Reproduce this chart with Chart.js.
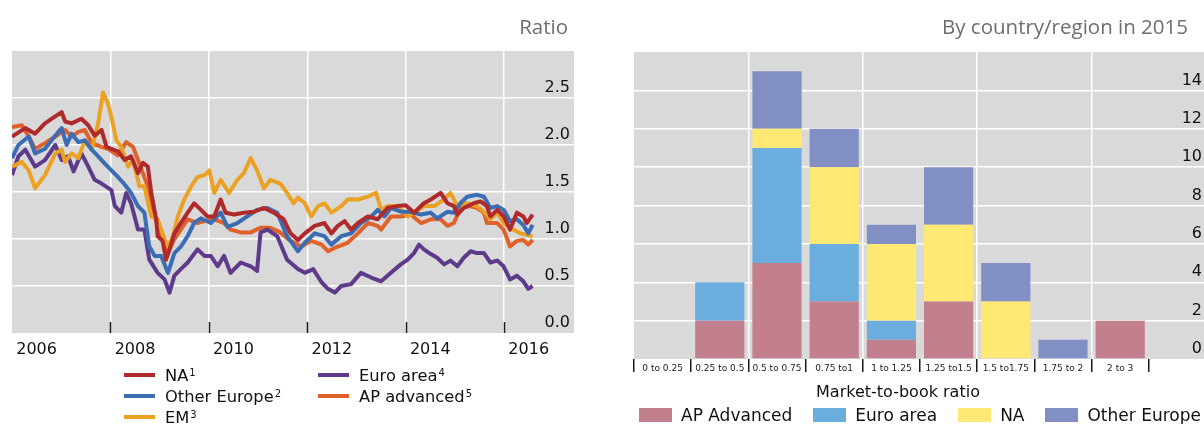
<!DOCTYPE html>
<html>
<head>
<meta charset="utf-8">
<script src="https://cdn.jsdelivr.net/npm/chart.js@4.4.1/dist/chart.umd.min.js"></script>
<style>
  html, body { margin: 0; padding: 0; background: #fff; overflow: hidden; }
  body { width: 1204px; height: 424px; position: relative; font-family: "DejaVu Sans", sans-serif; color: #111; }
  .box { position: absolute; top: 0; }
  .title { position: absolute; top: 16px; font-family: "Open Sans", sans-serif; font-size: 20.5px; line-height: 21px; color: #6e6e6e; white-space: nowrap; }
  .lg-item { position: absolute; display: flex; align-items: center; height: 20px; font-size: 16.3px; white-space: nowrap; }
  .lg-line { width: 31px; height: 4px; margin-right: 10px; }
  .lg-item sup { font-size: 10px; position: relative; top: -3px; margin-left: 1px; }
  #barLegend { position: absolute; left: 639px; top: 406px; display: flex; gap: 21px; font-size: 17px; line-height: 18px; white-space: nowrap; }
  #barLegend .item { display: flex; align-items: center; }
  #barLegend .sw { width: 33px; height: 14px; margin-right: 9px; }
  .axis-title { position: absolute; left: 798px; width: 200px; top: 383px; text-align: center; font-size: 16px; line-height: 18px; }
</style>
</head>
<body>
<div class="box" style="left:0;width:600px;height:424px"><canvas id="lineChart" width="600" height="424"></canvas></div>
<div class="box" style="left:600px;width:610px;height:424px"><canvas id="barChart" width="610" height="424"></canvas></div>
<div class="title" style="right:636px">Ratio</div>
<div class="title" style="right:16px">By country/region in 2015</div>
<div id="lineLegend"></div>
<div class="axis-title">Market-to-book ratio</div>
<div id="barLegend"></div>

<script>
// Market-to-book ratios, [year, ratio]
const naSeries = [
  [2006.00, 2.09], [2006.27, 2.18], [2006.47, 2.12], [2006.67, 2.23], [2006.81, 2.28], [2007.01, 2.35],
  [2007.08, 2.25], [2007.21, 2.23], [2007.41, 2.28], [2007.55, 2.21], [2007.68, 2.10], [2007.82, 2.16],
  [2007.92, 1.98], [2008.02, 1.96], [2008.16, 1.93], [2008.29, 1.84], [2008.42, 1.88], [2008.56, 1.70],
  [2008.66, 1.81], [2008.76, 1.77], [2008.83, 1.49], [2008.93, 1.21], [2008.96, 1.03], [2009.06, 0.98],
  [2009.13, 0.78], [2009.20, 0.89], [2009.30, 1.06], [2009.43, 1.17], [2009.57, 1.28], [2009.70, 1.38],
  [2009.84, 1.31], [2009.97, 1.24], [2010.11, 1.24], [2010.24, 1.42], [2010.34, 1.28], [2010.51, 1.26],
  [2010.71, 1.28], [2010.92, 1.29], [2011.12, 1.33], [2011.32, 1.28], [2011.52, 1.21], [2011.66, 1.06],
  [2011.81, 0.99], [2011.95, 1.06], [2012.15, 1.14], [2012.35, 1.17], [2012.49, 1.06], [2012.62, 1.14],
  [2012.76, 1.19], [2012.89, 1.10], [2013.03, 1.17], [2013.23, 1.24], [2013.43, 1.21], [2013.63, 1.33],
  [2013.83, 1.35], [2014.00, 1.36], [2014.17, 1.28], [2014.37, 1.38], [2014.51, 1.42], [2014.71, 1.49],
  [2014.85, 1.38], [2014.98, 1.35], [2015.05, 1.26], [2015.18, 1.33], [2015.38, 1.38], [2015.52, 1.40],
  [2015.65, 1.35], [2015.72, 1.24], [2015.86, 1.31], [2015.99, 1.24], [2016.12, 1.10], [2016.26, 1.28],
  [2016.39, 1.24], [2016.46, 1.17], [2016.58, 1.26]
];
const otherEuropeSeries = [
  [2006.00, 1.86], [2006.13, 2.00], [2006.34, 2.09], [2006.47, 1.91], [2006.67, 1.96], [2006.88, 2.10],
  [2007.01, 2.18], [2007.11, 2.00], [2007.21, 2.12], [2007.35, 2.03], [2007.48, 2.05], [2007.62, 1.95],
  [2007.75, 1.88], [2007.89, 1.80], [2008.02, 1.73], [2008.15, 1.66], [2008.29, 1.58], [2008.42, 1.49],
  [2008.56, 1.35], [2008.69, 1.28], [2008.79, 0.92], [2008.90, 0.82], [2009.03, 0.82], [2009.17, 0.64],
  [2009.30, 0.85], [2009.43, 0.92], [2009.57, 1.03], [2009.70, 1.17], [2009.84, 1.22], [2010.04, 1.17],
  [2010.24, 1.28], [2010.38, 1.13], [2010.58, 1.17], [2010.78, 1.24], [2010.98, 1.31], [2011.19, 1.33],
  [2011.39, 1.28], [2011.59, 1.03], [2011.81, 0.87], [2011.95, 0.96], [2012.15, 1.06], [2012.35, 1.03],
  [2012.49, 0.94], [2012.69, 1.03], [2012.89, 1.06], [2013.09, 1.17], [2013.30, 1.24], [2013.43, 1.31],
  [2013.57, 1.24], [2013.70, 1.33], [2013.90, 1.29], [2014.10, 1.29], [2014.31, 1.26], [2014.51, 1.28],
  [2014.64, 1.22], [2014.85, 1.29], [2014.98, 1.28], [2015.11, 1.38], [2015.25, 1.45], [2015.45, 1.47],
  [2015.59, 1.45], [2015.72, 1.33], [2015.86, 1.35], [2015.99, 1.31], [2016.12, 1.19], [2016.26, 1.21],
  [2016.39, 1.15], [2016.49, 1.06], [2016.58, 1.15]
];
const emSeries = [
  [2006.00, 1.77], [2006.20, 1.82], [2006.34, 1.73], [2006.47, 1.54], [2006.67, 1.68], [2006.88, 1.91],
  [2007.01, 1.95], [2007.08, 1.82], [2007.21, 1.91], [2007.35, 1.86], [2007.48, 2.05], [2007.62, 1.95],
  [2007.75, 2.23], [2007.85, 2.56], [2007.95, 2.44], [2008.02, 2.30], [2008.12, 2.05], [2008.22, 1.98],
  [2008.36, 1.77], [2008.46, 1.84], [2008.59, 1.56], [2008.69, 1.56], [2008.83, 1.24], [2008.96, 1.21],
  [2009.10, 1.00], [2009.17, 0.92], [2009.27, 1.03], [2009.37, 1.24], [2009.50, 1.42], [2009.64, 1.56],
  [2009.77, 1.66], [2009.91, 1.68], [2010.01, 1.73], [2010.11, 1.49], [2010.24, 1.63], [2010.41, 1.49],
  [2010.58, 1.63], [2010.71, 1.70], [2010.85, 1.86], [2010.98, 1.73], [2011.12, 1.54], [2011.25, 1.63],
  [2011.45, 1.59], [2011.59, 1.49], [2011.72, 1.38], [2011.81, 1.44], [2011.95, 1.38], [2012.08, 1.24],
  [2012.22, 1.35], [2012.35, 1.38], [2012.49, 1.28], [2012.69, 1.35], [2012.82, 1.42], [2013.03, 1.42],
  [2013.23, 1.45], [2013.40, 1.49], [2013.50, 1.31], [2013.63, 1.35], [2013.83, 1.35], [2014.04, 1.24],
  [2014.17, 1.28], [2014.37, 1.35], [2014.58, 1.35], [2014.78, 1.42], [2014.91, 1.49], [2015.05, 1.35],
  [2015.25, 1.38], [2015.45, 1.35], [2015.59, 1.29], [2015.72, 1.21], [2015.86, 1.28], [2015.99, 1.17],
  [2016.12, 1.12], [2016.33, 1.06], [2016.58, 1.03]
];
const euroAreaSeries = [
  [2006.00, 1.68], [2006.13, 1.88], [2006.27, 1.95], [2006.47, 1.77], [2006.67, 1.84], [2006.88, 2.00],
  [2007.01, 1.84], [2007.14, 1.88], [2007.25, 1.72], [2007.41, 1.91], [2007.55, 1.77], [2007.68, 1.63],
  [2007.82, 1.59], [2008.02, 1.52], [2008.09, 1.35], [2008.22, 1.28], [2008.32, 1.49], [2008.42, 1.38],
  [2008.56, 1.10], [2008.69, 1.10], [2008.79, 0.78], [2008.96, 0.64], [2009.10, 0.57], [2009.20, 0.43],
  [2009.30, 0.61], [2009.43, 0.68], [2009.57, 0.75], [2009.77, 0.89], [2009.91, 0.82], [2010.04, 0.82],
  [2010.18, 0.71], [2010.31, 0.82], [2010.44, 0.64], [2010.65, 0.75], [2010.85, 0.71], [2010.98, 0.66],
  [2011.05, 1.07], [2011.19, 1.10], [2011.39, 1.03], [2011.59, 0.78], [2011.81, 0.68], [2011.95, 0.64],
  [2012.12, 0.68], [2012.29, 0.54], [2012.42, 0.47], [2012.56, 0.43], [2012.69, 0.50], [2012.89, 0.52],
  [2013.09, 0.64], [2013.30, 0.59], [2013.50, 0.55], [2013.70, 0.64], [2013.90, 0.73], [2014.04, 0.78],
  [2014.17, 0.85], [2014.27, 0.94], [2014.37, 0.89], [2014.51, 0.84], [2014.64, 0.80], [2014.78, 0.73],
  [2014.91, 0.77], [2015.05, 0.71], [2015.18, 0.80], [2015.32, 0.87], [2015.45, 0.85], [2015.59, 0.85],
  [2015.72, 0.75], [2015.86, 0.77], [2015.99, 0.71], [2016.12, 0.57], [2016.26, 0.61], [2016.39, 0.55],
  [2016.49, 0.47], [2016.58, 0.50]
];
const apAdvancedSeries = [
  [2006.00, 2.19], [2006.20, 2.21], [2006.34, 2.09], [2006.47, 1.96], [2006.67, 2.02], [2006.88, 2.09],
  [2007.08, 2.16], [2007.21, 2.09], [2007.35, 2.14], [2007.48, 2.16], [2007.62, 2.02], [2007.82, 1.98],
  [2007.95, 1.96], [2008.15, 1.89], [2008.32, 2.03], [2008.46, 1.98], [2008.56, 1.84], [2008.66, 1.70],
  [2008.76, 1.56], [2008.90, 1.24], [2009.03, 1.03], [2009.17, 0.85], [2009.30, 1.00], [2009.43, 1.10],
  [2009.57, 1.21], [2009.77, 1.17], [2009.91, 1.19], [2010.11, 1.21], [2010.31, 1.17], [2010.44, 1.10],
  [2010.65, 1.07], [2010.85, 1.07], [2011.05, 1.12], [2011.25, 1.12], [2011.45, 1.07], [2011.66, 0.98],
  [2011.88, 0.92], [2012.08, 0.98], [2012.29, 0.94], [2012.42, 0.87], [2012.62, 0.92], [2012.82, 0.96],
  [2013.03, 1.06], [2013.23, 1.17], [2013.43, 1.14], [2013.50, 1.10], [2013.70, 1.24], [2013.90, 1.24],
  [2014.10, 1.26], [2014.31, 1.17], [2014.51, 1.21], [2014.71, 1.21], [2014.85, 1.14], [2014.98, 1.17],
  [2015.11, 1.33], [2015.32, 1.35], [2015.45, 1.33], [2015.59, 1.28], [2015.65, 1.17], [2015.86, 1.17],
  [2015.99, 1.10], [2016.12, 0.92], [2016.26, 0.98], [2016.39, 0.99], [2016.49, 0.94], [2016.58, 0.99]
];
const yearTicks = [2006, 2008, 2010, 2012, 2014, 2016];

// Number of banks by market-to-book bucket in 2015
const ratioBuckets = ['0 to 0.25', '0.25 to 0.5', '0.5 to 0.75', '0.75 to1', '1 to 1.25', '1.25 to1.5', '1.5 to1.75', '1.75 to 2', '2 to 3'];
const apAdvancedCounts = [0, 2, 5, 3, 1, 3, 0, 0, 2];
const euroAreaCounts = [0, 2, 6, 3, 1, 0, 0, 0, 0];
const naCounts = [0, 0, 1, 4, 4, 4, 3, 0, 0];
const otherEuropeCounts = [0, 0, 3, 2, 1, 3, 2, 1, 0];

Chart.defaults.font.family = '"DejaVu Sans", sans-serif';
Chart.defaults.color = '#111';

// gray plot background
const grayArea = {
    id: 'grayArea',
    beforeDraw(chart) {
        const { ctx, chartArea: a } = chart;
        ctx.save();
        ctx.fillStyle = '#d9d9d9';
        ctx.fillRect(a.left, a.top, a.right - a.left, a.bottom - a.top);
        ctx.restore();
    }
};

// short dark tick marks pointing up into the plot
const innerTicks = {
    id: 'innerTicks',
    afterDatasetsDraw(chart) {
        const { ctx, chartArea: a, scales: { x } } = chart;
        ctx.save();
        ctx.strokeStyle = '#1a1a1a';
        ctx.lineWidth = 1.5;
        x.ticks.forEach(t => {
            if (t.value <= x.min) return;
            const px = Math.round(x.getPixelForValue(t.value)) + 0.5;
            ctx.beginPath();
            ctx.moveTo(px, a.bottom);
            ctx.lineTo(px, a.bottom - 11);
            ctx.stroke();
        });
        ctx.restore();
    }
};

const toPoints = s => s.map(([x, y]) => ({ x, y }));
const none = 'rgba(0,0,0,0)';
const fixX = h => s => { s.height = h; s.paddingLeft = 0; s.paddingRight = 0; };
const fixY = s => { s.width = 0; s.paddingTop = 0; s.paddingBottom = 0; };

const lineChart = new Chart(document.getElementById('lineChart'), {
    type: 'line',
    data: {
        datasets: [
            { label: 'NA', note: '1', data: toPoints(naSeries), borderColor: '#b0292b' },
            { label: 'Other Europe', note: '2', data: toPoints(otherEuropeSeries), borderColor: '#3a6db3' },
            { label: 'EM', note: '3', data: toPoints(emSeries), borderColor: '#eba224' },
            { label: 'Euro area', note: '4', data: toPoints(euroAreaSeries), borderColor: '#5e3a8b' },
            { label: 'AP advanced', note: '5', data: toPoints(apAdvancedSeries), borderColor: '#e0612a' }
        ]
    },
    options: {
        responsive: false,
        animation: false,
        layout: { padding: { left: 12, right: 26, top: 51, bottom: 61 } },
        elements: {
            point: { radius: 0 },
            line: { borderWidth: 4, tension: 0, borderJoinStyle: 'round' }
        },
        plugins: { legend: { display: false }, tooltip: { enabled: false } },
        scales: {
            x: {
                type: 'linear',
                min: 2006,
                max: 2017.42,
                afterBuildTicks: s => { s.ticks = yearTicks.map(v => ({ value: v })); },
                afterFit: fixX(30),
                border: { display: false },
                grid: {
                    color: c => (c.tick && c.tick.value > 2006) ? '#fff' : none,
                    lineWidth: 1.5,
                    drawTicks: false
                },
                ticks: {
                    autoSkip: false,
                    maxRotation: 0,
                    padding: 7,
                    labelOffset: 24.6,
                    font: { size: 16 },
                    callback: v => String(v)
                }
            },
            y: {
                position: 'right',
                min: 0,
                max: 3,
                afterFit: fixY,
                border: { display: false },
                grid: {
                    color: c => (c.tick && c.tick.value > 0 && c.tick.value < 3) ? '#fff' : none,
                    lineWidth: 1.5,
                    drawTicks: false
                },
                ticks: {
                    stepSize: 0.5,
                    mirror: true,
                    padding: -4,
                    labelOffset: -10,
                    font: { size: 16 },
                    callback: v => v < 3 ? v.toFixed(1) : ''
                }
            }
        }
    },
    plugins: [grayArea, innerTicks]
});

const barChart = new Chart(document.getElementById('barChart'), {
    type: 'bar',
    data: {
        labels: [...ratioBuckets, ''],
        datasets: [
            { label: 'AP Advanced', data: apAdvancedCounts, backgroundColor: '#c27f8d' },
            { label: 'Euro area', data: euroAreaCounts, backgroundColor: '#6badde' },
            { label: 'NA', data: naCounts, backgroundColor: '#ffe873' },
            { label: 'Other Europe', data: otherEuropeCounts, backgroundColor: '#828fc5' }
        ]
    },
    options: {
        responsive: false,
        animation: false,
        layout: { padding: { left: 34, right: 4, top: 52, bottom: 35 } },
        datasets: { bar: { categoryPercentage: 1, barPercentage: 0.86 } },
        plugins: { legend: { display: false }, tooltip: { enabled: false } },
        scales: {
            x: {
                stacked: true,
                offset: true,
                afterFit: fixX(30),
                border: { display: false },
                grid: {
                    offset: true,
                    color: c => [2, 4, 6, 8].includes(c.index) ? '#fff' : none,
                    lineWidth: 1.5,
                    tickLength: 13,
                    tickWidth: 1.5,
                    tickColor: c => (c.index !== undefined && c.index < ratioBuckets.length + 1) ? '#1a1a1a' : none
                },
                ticks: {
                    autoSkip: false,
                    maxRotation: 0,
                    padding: -9,
                    color: '#222',
                    font: { size: 9 }
                }
            },
            y: {
                stacked: true,
                position: 'right',
                min: 0,
                max: 16,
                afterFit: fixY,
                border: { display: false },
                grid: {
                    color: c => (c.tick && c.tick.value > 0 && c.tick.value < 16) ? '#fff' : none,
                    lineWidth: 1.5,
                    drawTicks: false
                },
                ticks: {
                    stepSize: 2,
                    mirror: true,
                    padding: -4,
                    labelOffset: -10,
                    font: { size: 16 },
                    callback: v => v < 16 ? String(v) : ''
                }
            }
        }
    },
    plugins: [grayArea]
});

// legends built from the datasets
const lineLegend = document.getElementById('lineLegend');
lineChart.data.datasets.forEach((ds, i) => {
    const col = i < 3 ? 0 : 1;
    const row = i < 3 ? i : i - 3;
    const item = document.createElement('div');
    item.className = 'lg-item';
    item.style.left = (col ? 318 : 124) + 'px';
    item.style.top = (365 + row * 21) + 'px';
    item.innerHTML = '<span class="lg-line" style="background:' + ds.borderColor + '"></span>' +
        ds.label + '<sup>' + ds.note + '</sup>';
    lineLegend.appendChild(item);
});

const barLegend = document.getElementById('barLegend');
barChart.data.datasets.forEach(ds => {
    const item = document.createElement('div');
    item.className = 'item';
    item.innerHTML = '<span class="sw" style="background:' + ds.backgroundColor + '"></span>' + ds.label;
    barLegend.appendChild(item);
});
</script>
</body>
</html>
